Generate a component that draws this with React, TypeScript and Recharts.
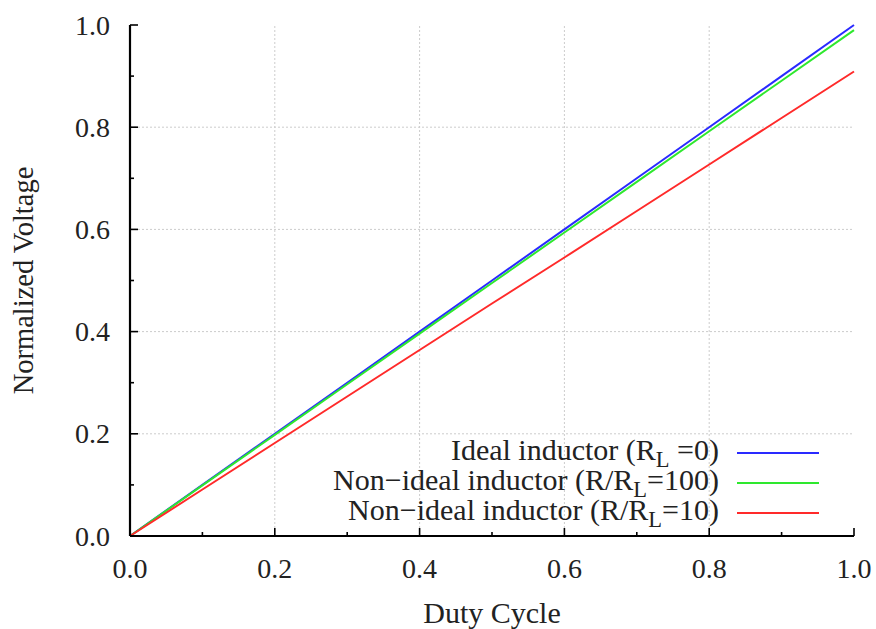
import React from 'react';
import { LineChart, Line, XAxis, YAxis, ReferenceLine } from 'recharts';

const dutyCycle = [0, 0.1, 0.2, 0.3, 0.4, 0.5, 0.6, 0.7, 0.8, 0.9, 1.0];
const idealVoltage = [0, 0.1, 0.2, 0.3, 0.4, 0.5, 0.6, 0.7, 0.8, 0.9, 1.0];
const rl100Voltage = [0, 0.099, 0.198, 0.297, 0.396, 0.495, 0.594, 0.693, 0.792, 0.891, 0.99];
const rl10Voltage = [0, 0.091, 0.182, 0.273, 0.364, 0.455, 0.545, 0.636, 0.727, 0.818, 0.909];

const allTicks = [0, 0.1, 0.2, 0.3, 0.4, 0.5, 0.6, 0.7, 0.8, 0.9, 1.0];
const gridValues = [0.2, 0.4, 0.6, 0.8];

const seriesNames = ['Ideal inductor', 'Non\u2212ideal inductor', 'Non\u2212ideal inductor'];
const seriesPrefix = ['(R', '(R/R', '(R/R'];
const seriesSuffix = [' =0)', '=100)', '=10)'];
const seriesColors = ['#2a2aff', '#2ee82e', '#ff2a2a'];
const seriesKeys = ['ideal', 'r100', 'r10'];

const data = dutyCycle.map((d, i) => ({
  d,
  ideal: idealVoltage[i],
  r100: rl100Voltage[i],
  r10: rl10Voltage[i],
}));

const FONT = '"Liberation Serif", "Times New Roman", serif';
const isMajor = (v: number) => Math.round(v * 10) % 2 === 0;
const MAJ = 8;
const MIN = 4;
const TICK_FS = 28;

const BottomTick = (props: any) => {
  const { x, y, payload } = props;
  const major = isMajor(payload.value);
  return (
    <g>
      <line x1={x} y1={y} x2={x} y2={y - (major ? MAJ : MIN)} stroke="#000" strokeWidth={1.6} />
      {major && (
        <text x={x} y={y + 42} textAnchor="middle" fontFamily={FONT} fontSize={TICK_FS} fill="#222">
          {payload.value.toFixed(1)}
        </text>
      )}
    </g>
  );
};

const TopTick = (props: any) => {
  const { x, y, payload } = props;
  const major = isMajor(payload.value);
  return <line x1={x} y1={y} x2={x} y2={y + (major ? MAJ : MIN)} stroke="#000" strokeWidth={1.6} />;
};

const LeftTick = (props: any) => {
  const { x, y, payload } = props;
  const major = isMajor(payload.value);
  return (
    <g>
      <line x1={x} y1={y} x2={x + (major ? MAJ : MIN)} y2={y} stroke="#000" strokeWidth={1.6} />
      {major && (
        <text x={x - 20} y={y + 9.5} textAnchor="end" fontFamily={FONT} fontSize={TICK_FS} fill="#222">
          {payload.value.toFixed(1)}
        </text>
      )}
    </g>
  );
};

const RightTick = (props: any) => {
  const { x, y, payload } = props;
  const major = isMajor(payload.value);
  return <line x1={x} y1={y} x2={x - (major ? MAJ : MIN)} y2={y} stroke="#000" strokeWidth={1.6} />;
};

const YLabel = (props: any) => {
  const vb = props.viewBox || {};
  const cy = vb.y + vb.height / 2;
  const cx = 33;
  return (
    <text
      x={cx}
      y={cy}
      transform={`rotate(-90 ${cx} ${cy})`}
      textAnchor="middle"
      fontFamily={FONT}
      fontSize={28.5}
      fill="#222"
    >
      Normalized Voltage
    </text>
  );
};

const XLabel = (props: any) => {
  const vb = props.viewBox || {};
  const cx = vb.x + vb.width / 2;
  return (
    <text x={cx} y={623} textAnchor="middle" fontFamily={FONT} fontSize={30} fill="#222">
      Duty Cycle
    </text>
  );
};

const rowCenters = [453, 483, 513];

const LegendOverlay = () => (
  <div style={{ position: 'absolute', left: 0, top: 0, width: 876, height: 629, fontFamily: FONT, color: '#222', pointerEvents: 'none' }}>
    {seriesNames.map((name, i) => (
      <React.Fragment key={i}>
        <div
          style={{
            position: 'absolute',
            right: 876 - 719,
            top: rowCenters[i] - 20,
            height: 34,
            lineHeight: '34px',
            fontSize: 30,
            whiteSpace: 'nowrap',
          }}
        >
          {name} {seriesPrefix[i]}
          <span style={{ position: 'relative', top: '0.3em', fontSize: '0.75em' }}>L</span>
          {seriesSuffix[i]}
        </div>
        <div
          style={{
            position: 'absolute',
            left: 737,
            width: 82,
            top: rowCenters[i] - 1,
            height: 2,
            background: seriesColors[i],
          }}
        />
      </React.Fragment>
    ))}
  </div>
);

export default function App() {
  return (
    <div style={{ position: 'absolute', left: 0, top: 0, width: 876, height: 629, background: '#fff' }}>
      <LineChart width={876} height={629} data={data} margin={{ top: 25, right: 22, left: 0, bottom: 0 }}>
        <XAxis
          xAxisId="b"
          dataKey="d"
          type="number"
          domain={[0, 1]}
          ticks={allTicks}
          interval={0}
          height={93}
          tickSize={0}
          tickMargin={0}
          tickLine={false}
          axisLine={{ stroke: '#000', strokeWidth: 2.2 }}
          tick={<BottomTick />}
          label={<XLabel />}
        />
        <XAxis
          xAxisId="t"
          orientation="top"
          dataKey="d"
          type="number"
          domain={[0, 1]}
          ticks={allTicks}
          interval={0}
          height={0}
          tickSize={0}
          tickMargin={0}
          tickLine={false}
          axisLine={{ stroke: '#000', strokeWidth: 2.2 }}
          tick={<TopTick />}
        />
        <YAxis
          yAxisId="l"
          type="number"
          domain={[0, 1]}
          ticks={allTicks}
          interval={0}
          width={130}
          tickSize={0}
          tickMargin={0}
          tickLine={false}
          axisLine={{ stroke: '#000', strokeWidth: 2.2 }}
          tick={<LeftTick />}
          label={<YLabel />}
        />
        <YAxis
          yAxisId="r"
          orientation="right"
          type="number"
          domain={[0, 1]}
          ticks={allTicks}
          interval={0}
          width={0}
          tickSize={0}
          tickMargin={0}
          tickLine={false}
          axisLine={{ stroke: '#000', strokeWidth: 2.2 }}
          tick={<RightTick />}
        />
        {gridValues.map((v) => (
          <ReferenceLine key={'gx' + v} xAxisId="b" yAxisId="l" x={v} stroke="#cccccc" strokeDasharray="2 2" />
        ))}
        {gridValues.map((v) => (
          <ReferenceLine key={'gy' + v} xAxisId="b" yAxisId="l" y={v} stroke="#cccccc" strokeDasharray="2 2" />
        ))}
        {seriesKeys.map((k, i) => (
          <Line
            key={k}
            xAxisId="b"
            yAxisId="l"
            type="linear"
            dataKey={k}
            stroke={seriesColors[i]}
            strokeWidth={2}
            dot={false}
            isAnimationActive={false}
          />
        ))}
      </LineChart>
      <LegendOverlay />
    </div>
  );
}
